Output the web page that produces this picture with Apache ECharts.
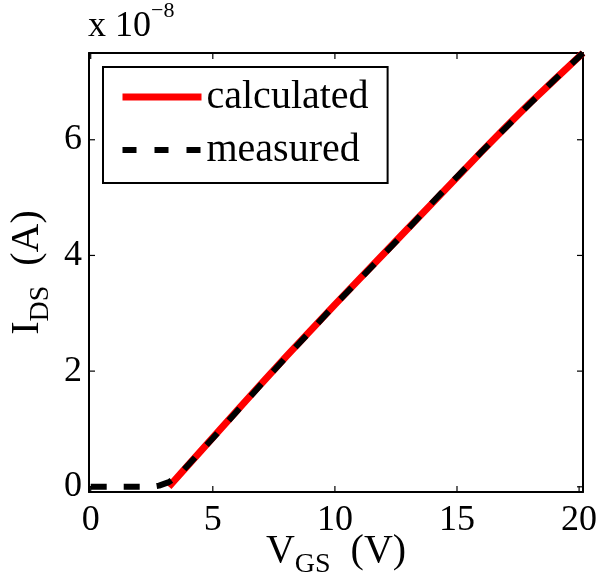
<!DOCTYPE html>
<html>
<head>
<meta charset="utf-8">
<script src="https://cdn.jsdelivr.net/npm/echarts@6/dist/echarts.min.js"></script>
<style>
 html,body{margin:0;padding:0;background:#fff;}
 #chart{width:597px;height:588px;}
</style>
</head>
<body>
<div id="chart"></div>
<script>
// данные (ток в единицах 1e-8 А)
var vgsCalc=[3.2,4,5,6,7,8,9,10,11,12,13,14,15,16,17,18,19,20.16];
var idsCalc=[0,0.38,0.85,1.32,1.79,2.25,2.7,3.15,3.59,4.03,4.47,4.91,5.35,5.79,6.22,6.64,7.04,7.5];
var vgsMeas=[0,0.5,1,1.5,2,2.5,2.8,3.2,3.6,4,5,6,7,8,9,10,11,12,13,14,15,16,17,18,19,20.16];
var idsMeas=[0,0,0,0,0,0,0.02,0.08,0.2,0.38,0.84,1.31,1.78,2.24,2.69,3.15,3.58,4.02,4.46,4.92,5.36,5.79,6.21,6.63,7.04,7.5];
var xTicks=[0,5,10,15,20];
var yTicks=[0,2,4,6];
var xRange=[-0.07,20.16];
var yRange=[-0.09,7.5];

var FONT='Liberation Serif';
var TICK=6;
var pairs=function(xs,ys){return xs.map(function(x,i){return [x,ys[i]];});};

var axLine={show:true,onZero:false,lineStyle:{color:'#000',width:2}};
var nameRich={
 m:{fontFamily:FONT,fontSize:40,lineHeight:44,verticalAlign:'top'},
 s:{fontFamily:FONT,fontSize:28,lineHeight:28,padding:[20,0,0,0],verticalAlign:'top'}
};

var chart=echarts.init(document.getElementById('chart'));
chart.setOption({
 animation:false,
 backgroundColor:'#fff',
 grid:{left:89,right:14,top:53,bottom:96,containLabel:false,outerBoundsMode:'none'},
 legend:{
  orient:'vertical',left:103,top:67,
  padding:[10,19,13,16],itemGap:13,itemWidth:79,itemHeight:14,
  borderColor:'#000',borderWidth:2,backgroundColor:'#fff',
  textStyle:{fontFamily:FONT,fontSize:40,color:'#000',lineHeight:40},
  itemStyle:{opacity:0},
  data:[
   {name:'calculated',lineStyle:{width:7,color:'#ff0000',type:'solid'}},
   {name:'measured',lineStyle:{width:6,color:'#000',type:[14,18]}}
  ]
 },
 xAxis:[
  {type:'value',min:xRange[0],max:xRange[1],position:'bottom',
   axisLine:axLine,axisTick:{show:false},splitLine:{show:false},
   axisLabel:{customValues:xTicks,margin:11,fontFamily:FONT,fontSize:36,color:'#000'},
   name:'{m|V}{s|GS}{m|  (V)}',nameLocation:'middle',nameGap:39,nameMoveOverlap:false,
   nameTextStyle:{color:'#000',rich:nameRich}},
  {type:'value',min:xRange[0],max:xRange[1],position:'top',
   axisLine:axLine,axisTick:{show:false},axisLabel:{show:false},splitLine:{show:false}}
 ],
 yAxis:[
  {type:'value',min:yRange[0],max:yRange[1],position:'left',
   axisLine:axLine,axisTick:{show:false},splitLine:{show:false},
   axisLabel:{customValues:yTicks,margin:7,fontFamily:FONT,fontSize:36,color:'#000'},
   name:'{m|I}{s|DS}{m|  (A)}',nameLocation:'middle',nameGap:38,nameMoveOverlap:false,
   nameTextStyle:{color:'#000',rich:nameRich}},
  {type:'value',min:yRange[0],max:yRange[1],position:'right',
   axisLine:axLine,axisTick:{show:false},axisLabel:{show:false},splitLine:{show:false}}
 ],
 series:[
  {name:'calculated',type:'line',data:pairs(vgsCalc,idsCalc),showSymbol:false,symbol:'none',
   lineStyle:{color:'#ff0000',width:7},itemStyle:{color:'#ff0000'},z:2},
  {name:'measured',type:'line',data:pairs(vgsMeas,idsMeas),showSymbol:false,symbol:'none',
   lineStyle:{color:'#000',width:6,type:[16,17]},itemStyle:{color:'#000'},z:3}
 ]
});

// внутренние засечки по всем четырём сторонам (как box on в MATLAB)
var xl=chart.convertToPixel({xAxisIndex:0},xRange[0]);
var xr=chart.convertToPixel({xAxisIndex:0},xRange[1]);
var yb=chart.convertToPixel({yAxisIndex:0},yRange[0]);
var yt=chart.convertToPixel({yAxisIndex:0},yRange[1]);
var tk=function(x1,y1,x2,y2){return {type:'line',z:10,shape:{x1:x1,y1:y1,x2:x2,y2:y2},style:{stroke:'#000',lineWidth:1.2}};};
var g=[
 {type:'text',left:88,top:9,style:{text:'x 10',font:'36px "Liberation Serif"',fill:'#000'}},
 {type:'text',left:151,top:0,style:{text:'\u22128',font:'22px "Liberation Serif"',fill:'#000'}}
];
xTicks.forEach(function(v){
 var p=chart.convertToPixel({xAxisIndex:0},v);
 g.push(tk(p,yb,p,yb-TICK)); g.push(tk(p,yt,p,yt+TICK));
});
yTicks.forEach(function(v){
 var p=chart.convertToPixel({yAxisIndex:0},v);
 g.push(tk(xl,p,xl+TICK,p)); g.push(tk(xr,p,xr-TICK,p));
});
chart.setOption({graphic:g});
</script>
</body>
</html>
